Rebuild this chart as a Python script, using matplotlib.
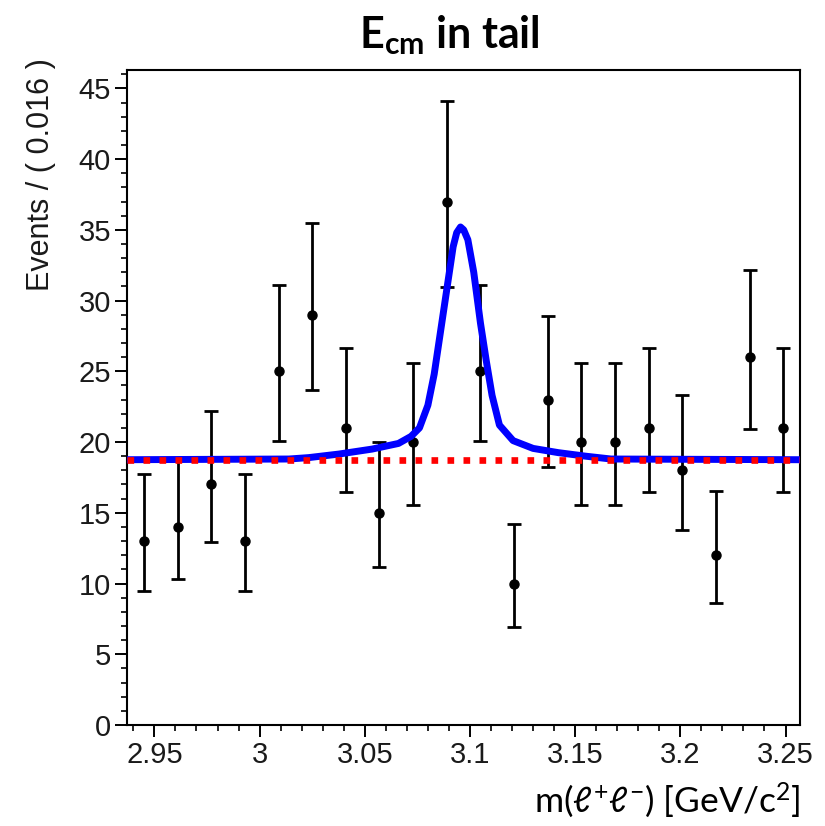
import matplotlib
matplotlib.use("Agg")
import matplotlib.pyplot as plt
from matplotlib.ticker import MultipleLocator, FormatStrFormatter

# binned data, 20 bins of 0.016
bin_centers = [2.945, 2.961, 2.977, 2.993, 3.009, 3.025, 3.041, 3.057, 3.073, 3.089,
               3.105, 3.121, 3.137, 3.153, 3.169, 3.185, 3.201, 3.217, 3.233, 3.249]
counts = [13, 14, 17, 13, 25, 29, 21, 15, 20, 37, 25, 10, 23, 20, 20, 21, 18, 12, 26, 21]
err_lo = [3.55, 3.69, 4.08, 3.55, 4.96, 5.35, 4.54, 3.83, 4.43, 6.05,
          4.96, 3.10, 4.76, 4.43, 4.43, 4.54, 4.20, 3.41, 5.07, 4.54]
err_hi = [4.71, 4.84, 5.21, 4.71, 6.07, 6.45, 5.67, 4.97, 5.56, 7.14,
          6.07, 4.24, 5.88, 5.56, 5.56, 5.67, 5.33, 4.57, 6.17, 5.67]

# fitted curve
fit_x = [2.937, 3.014, 3.0234, 3.0377, 3.0534, 3.066, 3.072, 3.076, 3.080, 3.083,
         3.086, 3.089, 3.092, 3.0937, 3.0955, 3.097, 3.099, 3.1018, 3.105, 3.1078,
         3.1105, 3.114, 3.1205, 3.130, 3.142, 3.155, 3.167, 3.257]
fit_y = [18.75, 18.8, 18.9, 19.15, 19.5, 19.9, 20.4, 21.0, 22.6, 24.8,
         27.8, 30.8, 33.8, 34.8, 35.2, 35.0, 34.3, 32.0, 28.4, 25.7,
         23.3, 21.2, 20.1, 19.55, 19.25, 19.0, 18.8, 18.75]
bkg_x = [2.937, 3.257]
bkg_y = [18.75, 18.75]

plt.rcParams['font.family'] = 'Liberation Sans'
plt.rcParams['mathtext.fontset'] = 'custom'
plt.rcParams['mathtext.rm'] = 'Lato'
plt.rcParams['mathtext.bf'] = 'Lato:bold'
plt.rcParams['mathtext.it'] = 'Lato:italic'

fig = plt.figure(figsize=(8.25, 8.26), dpi=100)
ax = fig.add_axes([0.154, 0.1223, 0.816, 0.793])

ax.errorbar(bin_centers, counts, yerr=[err_lo, err_hi], fmt='o', color='black',
            ms=6.5, elinewidth=2, capsize=4.7, capthick=2, zorder=2)
ax.plot(fit_x, fit_y, color='#0000ff', lw=5, zorder=3)
ax.plot(bkg_x, bkg_y, color='#ff0000', lw=4.8, ls=(0, (1, 1.4)),
        dash_capstyle='butt', zorder=4)

ax.set_xlim(2.937, 3.257)
ax.set_ylim(0, 46.3)
ax.xaxis.set_major_locator(MultipleLocator(0.05))
ax.xaxis.set_minor_locator(MultipleLocator(0.01))
ax.xaxis.set_major_formatter(FormatStrFormatter('%g'))
ax.yaxis.set_major_locator(MultipleLocator(5))
ax.yaxis.set_minor_locator(MultipleLocator(1))

for s in ax.spines.values():
    s.set_linewidth(1.5)
ax.tick_params(which='major', direction='out', length=8.5, width=1.4, pad=3,
               labelsize=21, labelcolor='#1a1a1a')
ax.tick_params(which='minor', direction='out', length=4.3, width=1.2)

ax.set_ylabel('Events / ( 0.016 )', fontsize=22, color='#1a1a1a', loc='top')
ax.yaxis.set_label_coords(-0.106, 1.018)

fig.text(0.545, 0.958, r'$\mathbf{E_{cm}}$ in tail', ha='center', va='center',
         fontsize=31, fontweight='bold', family='Lato')
fig.text(0.97, 0.031, r'm($\ell^{+}\ell^{-}$) [GeV/c$^{2}$]', ha='right',
         va='center', fontsize=25.5, family='Lato')

fig.savefig('out.png', dpi=100)
